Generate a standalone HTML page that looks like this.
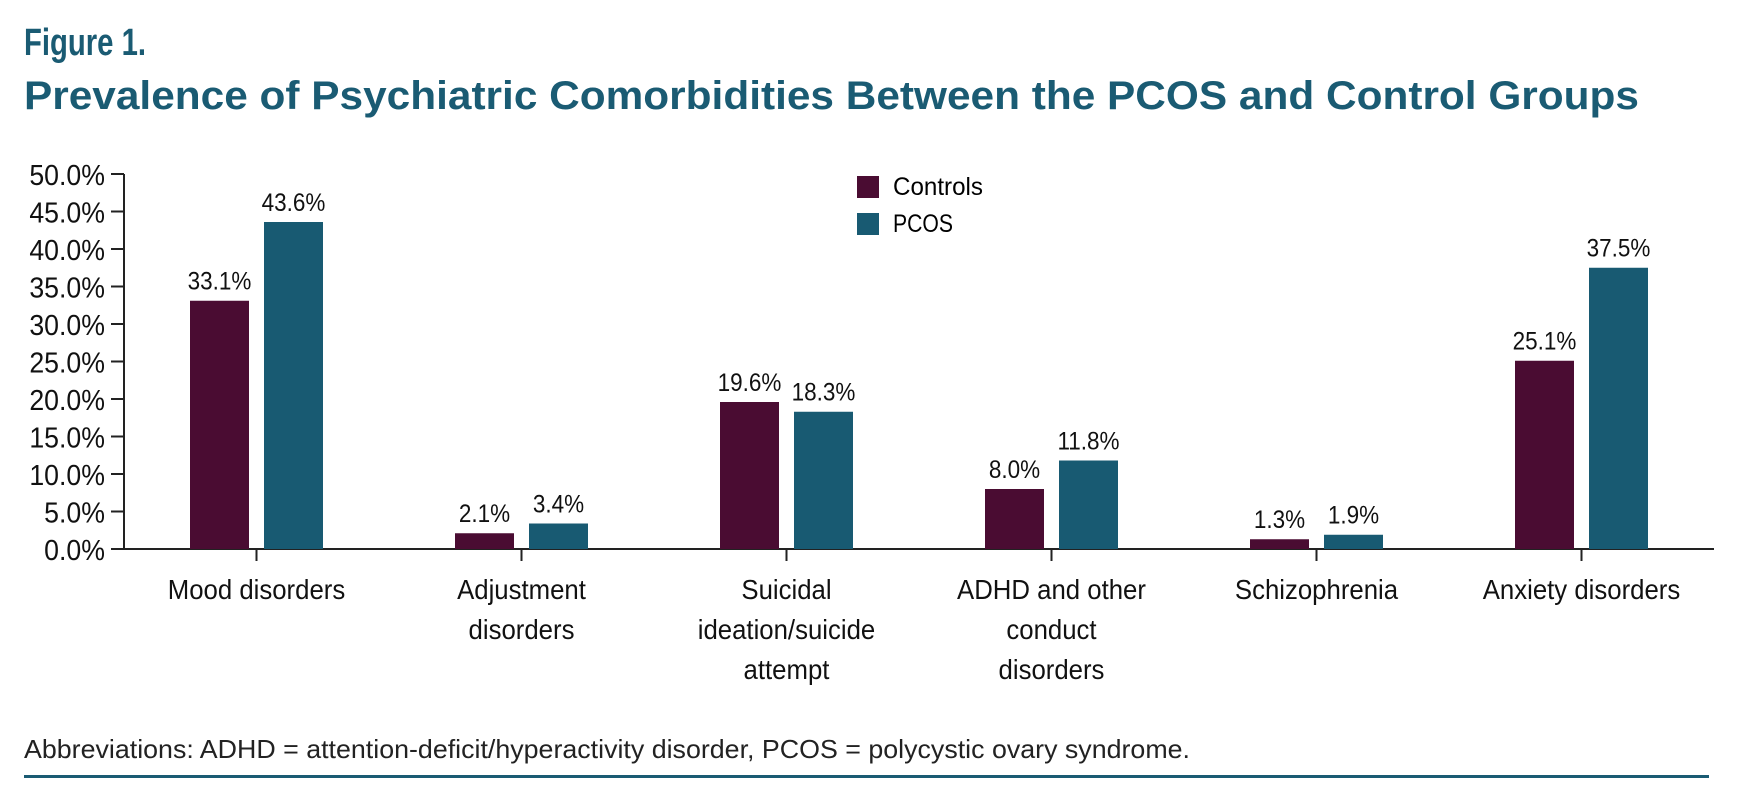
<!DOCTYPE html>
<html><head><meta charset="utf-8"><style>
body{margin:0;background:#fff;}
svg{display:block;font-family:"Liberation Sans",sans-serif;}
</style></head><body>
<svg id="chart" width="1739" height="802">
<text x="24" y="55" font-size="38" font-weight="bold" fill="#1a5b73" textLength="122" lengthAdjust="spacingAndGlyphs">Figure 1.</text>
<text x="24" y="109" font-size="40" font-weight="bold" fill="#1a5b73" textLength="1615" lengthAdjust="spacingAndGlyphs">Prevalence of Psychiatric Comorbidities Between the PCOS and Control Groups</text>
<g id="axes"></g>
<g id="bars"></g>
<g>
<rect x="857" y="176" width="22" height="22" fill="#4a0c32"/>
<text x="893" y="195" font-size="25" textLength="90" lengthAdjust="spacingAndGlyphs">Controls</text>
<rect x="857" y="213" width="22" height="22" fill="#185a72"/>
<text x="893" y="232" font-size="25" textLength="60" lengthAdjust="spacingAndGlyphs">PCOS</text>
</g>
<text x="24" y="758" font-size="26" fill="#222" textLength="1166" lengthAdjust="spacingAndGlyphs">Abbreviations: ADHD = attention-deficit/hyperactivity disorder, PCOS = polycystic ovary syndrome.</text>
<rect x="24" y="775" width="1685" height="3" fill="#1a5b73"/>
</svg>
<script>
const categories=[["Mood disorders"],["Adjustment","disorders"],["Suicidal","ideation/suicide","attempt"],["ADHD and other","conduct","disorders"],["Schizophrenia"],["Anxiety disorders"]];
const controls=[33.1,2.1,19.6,8.0,1.3,25.1];
const pcos=[43.6,3.4,18.3,11.8,1.9,37.5];
const yTicks=[0,5,10,15,20,25,30,35,40,45,50];
const NS="http://www.w3.org/2000/svg";
const x0=124,catW=265,y0=549,yMax=50,plotH=375,barW=59,gap=15;
const y=v=>y0-v/yMax*plotH;
const cx=i=>x0+catW*(i+0.5);
function mk(t,a,p){const e=document.createElementNS(NS,t);for(const k in a)e.setAttribute(k,a[k]);p.appendChild(e);return e;}
const ax=document.getElementById('axes'),bg=document.getElementById('bars');
let l=mk('line',{x1:x0,y1:y(yMax),x2:x0,y2:y0,stroke:'#222','stroke-width':2},ax);


l=mk('line',{x1:x0-1,y1:y0,x2:x0+catW*categories.length,y2:y0,stroke:'#222','stroke-width':2},ax);


yTicks.forEach(v=>{
  const t=mk('line',{x1:x0-13,y1:y(v),x2:x0,y2:y(v),stroke:'#222','stroke-width':2},ax);
  
  
  const tx=mk('text',{x:105,y:y(v)+11,'font-size':29,'text-anchor':'end',fill:'#111',transform:`translate(105 0) scale(0.92 1) translate(-105 0)`},ax);
  tx.textContent=v.toFixed(1)+'%';
  
  
});
categories.forEach((lines,i)=>{
  const c=cx(i);
  const t=mk('line',{x1:c,y1:y0,x2:c,y2:y0+12,stroke:'#222','stroke-width':2},ax);
  
  
  lines.forEach((s,j)=>{
    const tx=mk('text',{x:c,y:599+j*40,'font-size':28,'text-anchor':'middle',fill:'#111',transform:`translate(${c} 0) scale(0.92 1) translate(${-c} 0)`},ax);
    tx.textContent=s;
    
    
  });
  [[controls[i],'#4a0c32',c-gap/2-barW,'bar-controls'],[pcos[i],'#185a72',c+gap/2,'bar-pcos']].forEach(([v,col,bx,nm])=>{
    const r=mk('rect',{x:bx,y:y(v),width:barW,height:y0-y(v),fill:col},bg);
    
    
    const mx=bx+barW/2;
    const tx=mk('text',{x:mx,y:y(v)-11,'font-size':25,'text-anchor':'middle',fill:'#111',transform:`translate(${mx} 0) scale(0.9 1) translate(${-mx} 0)`},bg);
    tx.textContent=v.toFixed(1)+'%';
    
    
  });
});
</script>
</body></html>
